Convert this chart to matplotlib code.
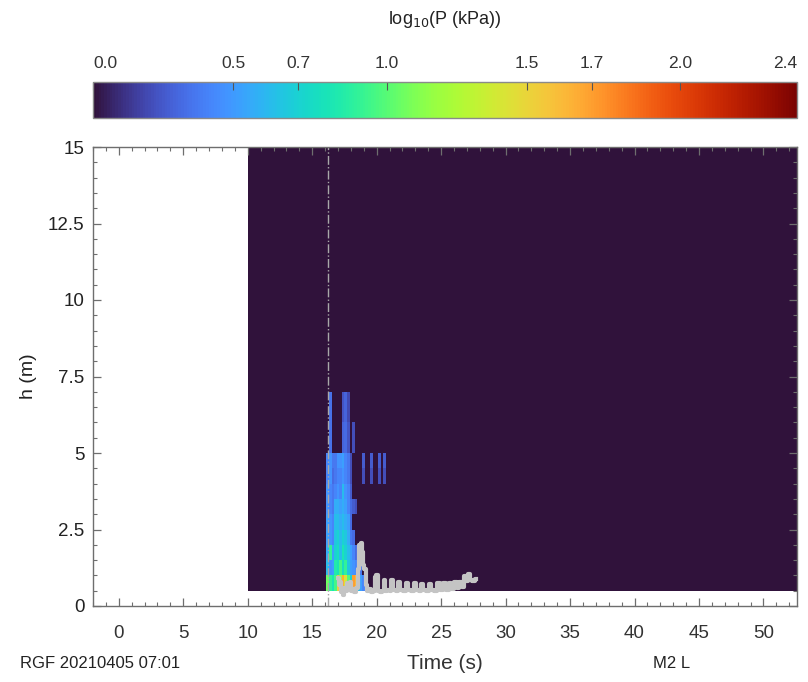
import numpy as np
import matplotlib
matplotlib.use("Agg")
import matplotlib.pyplot as plt
from matplotlib import font_manager as fm
from matplotlib.ticker import MultipleLocator

names = {f.name for f in fm.fontManager.ttflist}
base = 'Liberation Sans' if 'Liberation Sans' in names else 'DejaVu Sans'
narrow = 'Liberation Sans Narrow' if 'Liberation Sans Narrow' in names else base
plt.rcParams['font.family'] = [base, 'DejaVu Sans']

# ---- data ----
h_edges = [0.5, 1.0, 1.5, 2.0, 2.5, 3.0, 3.5, 4.0, 4.5, 5.0, 6.0, 7.0, 15.0]
t_edges = [10.0, 16.1, 16.3, 16.5, 16.7, 16.9, 17.1, 17.3, 17.5, 17.7, 17.9, 18.1,
           18.3, 18.5, 18.7, 18.9, 19.1, 19.3, 19.5, 19.7, 19.9, 20.1, 20.3,
           20.5, 20.7, 20.9, 52.6]
# log10(P) per h bin (bottom to top), one value per time column
logP_rows = [
    [0, 1.05, 0.9, 0.8, 0.95, 1.5, 1.2, 1.65, 1.4, 1.0, 0.7, 1.7, 1.6, 0.6, 0.5, 0.4, 0, 0, 0, 0, 0, 0, 0, 0, 0, 0],
    [0, 0.6, 0.45, 0.5, 0.85, 0.8, 0.95, 0.75, 0.9, 0.65, 0.5, 0.45, 0.4, 0.3, 0.35, 0, 0, 0, 0, 0, 0, 0, 0, 0, 0, 0],
    [0, 0.55, 0.9, 0.5, 0.7, 0.75, 0.6, 0.8, 0.7, 0.6, 0.5, 0.4, 0.3, 0.3, 0, 0, 0, 0, 0, 0, 0, 0, 0, 0, 0, 0],
    [0, 0.5, 0.45, 0.4, 0.65, 0.7, 0.6, 0.7, 0.65, 0.55, 0.35, 0.3, 0, 0, 0, 0, 0, 0, 0, 0, 0, 0, 0, 0, 0, 0],
    [0, 0.5, 0.45, 0.4, 0.6, 0.6, 0.55, 0.6, 0.55, 0.5, 0.3, 0, 0, 0, 0, 0, 0, 0, 0, 0, 0, 0, 0, 0, 0, 0],
    [0, 0.45, 0.4, 0.35, 0.55, 0.55, 0.5, 0.55, 0.5, 0.4, 0.3, 0.25, 0.2, 0, 0, 0, 0, 0, 0, 0, 0, 0, 0, 0, 0, 0],
    [0, 0.45, 0.4, 0.35, 0.4, 0.45, 0.4, 0.6, 0.45, 0.4, 0.25, 0, 0, 0, 0, 0, 0, 0, 0, 0, 0, 0, 0, 0, 0, 0],
    [0, 0.4, 0.45, 0.3, 0.35, 0.4, 0.4, 0.45, 0.4, 0.35, 0.2, 0, 0, 0, 0, 0.2, 0, 0, 0.2, 0, 0, 0.2, 0, 0.2, 0, 0],
    [0, 0.4, 0.45, 0.35, 0.35, 0.45, 0.45, 0.5, 0.4, 0.35, 0.2, 0, 0, 0, 0, 0.25, 0, 0, 0.25, 0, 0, 0.25, 0, 0.25, 0, 0],
    [0, 0, 0.32, 0, 0, 0, 0, 0.28, 0.3, 0.22, 0, 0.2, 0, 0, 0, 0, 0, 0, 0, 0, 0, 0, 0, 0, 0, 0],
    [0, 0, 0.32, 0, 0, 0, 0, 0.22, 0.28, 0.18, 0, 0, 0, 0, 0, 0, 0, 0, 0, 0, 0, 0, 0, 0, 0, 0],
    [0] * 26,
]
gray_t = [17.0, 17.1, 17.2, 17.3, 17.45, 17.55, 17.65, 17.75, 17.85, 17.95, 18.05, 18.2,
          18.35, 18.5, 18.6, 18.7, 18.8, 18.9, 19.0, 19.1, 19.2, 19.35, 19.5, 19.65, 19.8,
          19.9, 20.05, 20.2, 20.35, 20.5, 20.6, 20.75, 20.9, 21.1, 21.2, 21.35, 21.6, 21.75,
          21.9, 22.2, 22.35, 22.5, 22.8, 22.95, 23.1, 23.4, 23.55, 23.7, 24.0, 24.15, 24.3,
          24.6, 24.8, 25.0, 25.25, 25.5, 25.7, 25.9, 26.1, 26.3, 26.5, 26.7, 26.85, 27.0,
          27.15, 27.3, 27.5, 27.7]
gray_h = [0.9, 0.7, 0.8, 0.45, 0.35, 0.6, 0.5, 0.75, 0.55, 0.8, 0.5, 0.55,
          0.45, 0.6, 1.2, 2.0, 2.05, 1.75, 1.35, 1.2, 0.7, 0.5, 0.55, 0.45, 0.5,
          0.95, 1.0, 0.5, 0.45, 0.5, 0.85, 0.5, 0.52, 0.5, 0.85, 0.52, 0.5, 0.8,
          0.52, 0.5, 0.75, 0.52, 0.5, 0.75, 0.52, 0.5, 0.72, 0.52, 0.5, 0.72, 0.52,
          0.5, 0.75, 0.52, 0.75, 0.52, 0.75, 0.55, 0.78, 0.58, 0.8, 0.62, 0.98, 0.82,
          1.05, 0.85, 0.82, 0.88]
arrival_t = 16.2
cbar_kpa = [1, 3, 5, 10, 30, 50, 100, 250]          # colorbar tick pressures (kPa)
x_ticks = [0, 5, 10, 15, 20, 25, 30, 35, 40, 45, 50]
y_ticks = [0, 2.5, 5, 7.5, 10, 12.5, 15]
y_ticklabels = ['0', '2.5', '5', '7.5', '10', '12.5', '15']

# ---- figure ----
fig = plt.figure(figsize=(8.08, 6.82), dpi=100)
ax = fig.add_axes([93/808, 76/682, 704/808, 459/682])
cax = fig.add_axes([93/808, 564/682, 704/808, 36/682])

cticks = np.log10(cbar_kpa)
spine_col = '#6e6e6e'
Z = np.array(logP_rows)
mesh = ax.pcolormesh(t_edges, h_edges, Z, cmap='turbo', vmin=0, vmax=cticks[-1],
                     shading='flat', rasterized=True)
ax.axvline(arrival_t, color='#a8a8a8', lw=1.0, ls='-.')
ax.plot(gray_t, gray_h, color='#c4c4c4', lw=3.0, drawstyle='steps-mid')

ax.set_xlim(-2, 52.6)
ax.set_ylim(0, 15)
ax.set_xticks(x_ticks)
ax.set_yticks(y_ticks)
ax.set_yticklabels(y_ticklabels)
ax.xaxis.set_minor_locator(MultipleLocator(1))
ax.yaxis.set_minor_locator(MultipleLocator(0.5))
ax.tick_params(which='both', direction='in', top=True, right=True, color=spine_col)
ax.tick_params(which='major', length=6, width=0.9)
ax.tick_params(which='minor', length=3, width=0.8)
ax.tick_params(axis='y', labelsize=13.5, pad=6)
ax.tick_params(axis='x', labelsize=13.5, pad=14)
for lab in ax.get_xticklabels():
    lab.set_fontfamily(narrow)
    lab.set_color('#333333')
for lab in ax.get_yticklabels():
    lab.set_color('#222222')
for s in ax.spines.values():
    s.set_color(spine_col)
    s.set_linewidth(1.0)
ax.set_xlabel('Time (s)', fontsize=15, family=narrow, color='#333333', labelpad=8)
ax.set_ylabel('h (m)', fontsize=14, color='#222222', labelpad=8)

cb = fig.colorbar(mesh, cax=cax, orientation='horizontal', ticks=cticks)
cax.xaxis.set_ticks_position('top')
cax.xaxis.set_label_position('top')
cb.set_ticklabels([f'{v:.1f}' for v in cticks])
cax.tick_params(direction='in', length=6, width=0.8, color='#555555',
                labelsize=12.5, pad=8, labelcolor='#333333')
labs = cax.get_xticklabels()
for lab in labs:
    lab.set_fontfamily(narrow)
labs[0].set_horizontalalignment('left')
labs[-1].set_horizontalalignment('right')
cb.outline.set_edgecolor('#8a8a8a')
cb.outline.set_linewidth(1.0)
fig.text(445/808, 1 - 20/682, r'log$_{10}$(P (kPa))', ha='center', va='center',
         fontsize=13, color='#222222')

fig.text(20/808, 1 - 663/682, 'RGF 20210405 07:01', ha='left', va='center',
         fontsize=12, family=narrow, color='#222222')
fig.text(672/808, 1 - 663/682, 'M2 L', ha='center', va='center',
         fontsize=12, family=narrow, color='#222222')

fig.savefig('out.png', dpi=100)
